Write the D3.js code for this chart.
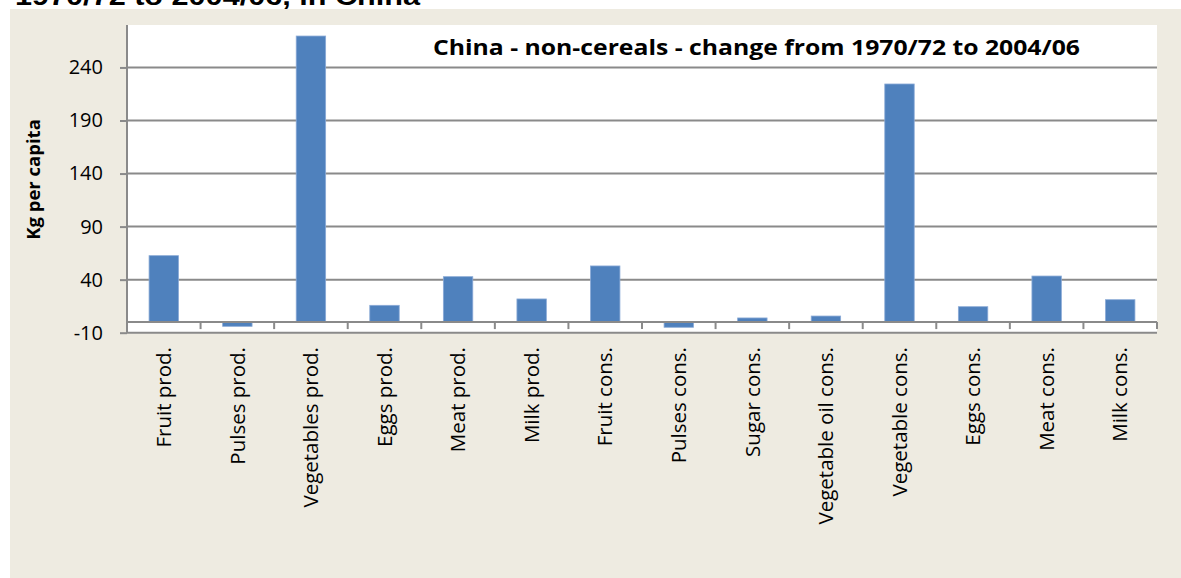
<!DOCTYPE html>
<html>
<head>
<meta charset="utf-8">
<script src="https://cdn.jsdelivr.net/npm/d3@7"></script>
<style>
  html, body { margin: 0; padding: 0; background: #ffffff; }
  svg { display: block; }
</style>
</head>
<body>
<svg id="chart" width="1181" height="578"></svg>
<script>
// Change in per-capita quantities, 1970/72 to 2004/06 (kg per capita)
const categories = [
  "Fruit prod.", "Pulses prod.", "Vegetables prod.", "Eggs prod.", "Meat prod.",
  "Milk prod.", "Fruit cons.", "Pulses cons.", "Sugar cons.", "Vegetable oil cons.",
  "Vegetable cons.", "Eggs cons.", "Meat cons.", "Milk cons."
];
const changeKg = [62.6, -4.0, 269.6, 15.8, 42.8, 21.8, 52.9, -4.9, 3.9, 5.7, 224.4, 14.5, 43.4, 21.1];
const yTicks = [-10, 40, 90, 140, 190, 240];
const yDomain = [-10, 280];

const chartTitle = "China - non-cereals - change from 1970/72 to 2004/06";
const yTitle = "Kg per capita";
const headerText = "1970/72 to 2004/06, in China";

const svg = d3.select("#chart");
const W = 1181, H = 578;
const plot = { left: 127, right: 1157, top: 25, bottom: 332.7 };
const gridColor = "#8a8a8a";
const font = "'Open Sans', 'DejaVu Sans', sans-serif";

// page header line (upper half runs off the top edge)
svg.append("text")
  .attr("x", 15).attr("y", 5)
  .attr("font-family", "'Liberation Sans', Arial, sans-serif")
  .attr("font-weight", "bold")
  .attr("font-size", 26)
  .attr("textLength", 405)
  .attr("lengthAdjust", "spacingAndGlyphs")
  .attr("fill", "#000")
  .text(headerText);

// chart area background
svg.append("rect")
  .attr("x", 10).attr("y", 9)
  .attr("width", W - 10).attr("height", H - 9)
  .attr("fill", "#eeebe1");

// plot area
svg.append("rect")
  .attr("x", plot.left).attr("y", plot.top)
  .attr("width", plot.right - plot.left).attr("height", plot.bottom - plot.top)
  .attr("fill", "#ffffff");

const x = d3.scaleBand()
  .domain(categories)
  .range([plot.left, plot.right])
  .paddingInner(0.6)
  .paddingOuter(0.3);

const y = d3.scaleLinear()
  .domain(yDomain)
  .range([plot.bottom, plot.top]);

// horizontal gridlines
svg.append("g")
  .selectAll("line")
  .data(yTicks)
  .join("line")
  .attr("x1", plot.left).attr("x2", plot.right)
  .attr("y1", d => y(d)).attr("y2", d => y(d))
  .attr("stroke", gridColor)
  .attr("stroke-width", 2);

// y axis
const yAxis = svg.append("g")
  .attr("transform", `translate(${plot.left},0)`)
  .call(d3.axisLeft(y).tickValues(yTicks).tickSize(7).tickPadding(17).tickFormat(d => String(d)));
yAxis.select(".domain").attr("stroke", gridColor).attr("stroke-width", 2)
  .attr("d", `M0,${plot.top}V${plot.bottom}`);
yAxis.selectAll(".tick line").attr("stroke", gridColor).attr("stroke-width", 2);
yAxis.selectAll(".tick text")
  .attr("font-family", font)
  .attr("font-size", 20)
  .attr("fill", "#000");

// bars
svg.append("g")
  .selectAll("rect")
  .data(categories.map((c, i) => ({ c, v: changeKg[i] })))
  .join("rect")
  .attr("x", d => x(d.c))
  .attr("width", x.bandwidth())
  .attr("y", d => y(Math.max(0, d.v)))
  .attr("height", d => Math.abs(y(d.v) - y(0)))
  .attr("fill", "#4f81bd")
  .attr("stroke", "#8aaad6")
  .attr("stroke-width", 0.8);

// category axis at zero, ticks between categories
const y0 = y(0);
const step = x.step();
const boundaries = d3.range(categories.length + 1).map(i => plot.left + i * step);
svg.append("line")
  .attr("x1", plot.left).attr("x2", plot.right)
  .attr("y1", y0).attr("y2", y0)
  .attr("stroke", gridColor).attr("stroke-width", 2);
svg.append("g")
  .selectAll("line")
  .data(boundaries)
  .join("line")
  .attr("x1", d => d).attr("x2", d => d)
  .attr("y1", y0).attr("y2", y0 + 7)
  .attr("stroke", gridColor).attr("stroke-width", 2);

// category labels, rotated
svg.append("g")
  .selectAll("text")
  .data(categories)
  .join("text")
  .attr("transform", d => `translate(${x(d) + x.bandwidth() / 2},347) rotate(-90)`)
  .attr("text-anchor", "end")
  .attr("dy", "0.35em")
  .attr("font-family", font)
  .attr("font-size", 20.5)
  .attr("fill", "#000")
  .text(d => d);

// y axis title
svg.append("text")
  .attr("transform", `translate(34,${(117 + 242) / 2}) rotate(-90)`)
  .attr("text-anchor", "middle")
  .attr("dy", "0.35em")
  .attr("font-family", font)
  .attr("font-weight", "bold")
  .attr("font-size", 18.5)
  .attr("fill", "#000")
  .text(yTitle);

// chart title
svg.append("text")
  .attr("x", 433).attr("y", 55)
  .attr("font-family", font)
  .attr("font-weight", "bold")
  .attr("font-size", 22)
  .attr("textLength", 647)
  .attr("lengthAdjust", "spacingAndGlyphs")
  .attr("fill", "#000")
  .text(chartTitle);
</script>
</body>
</html>
